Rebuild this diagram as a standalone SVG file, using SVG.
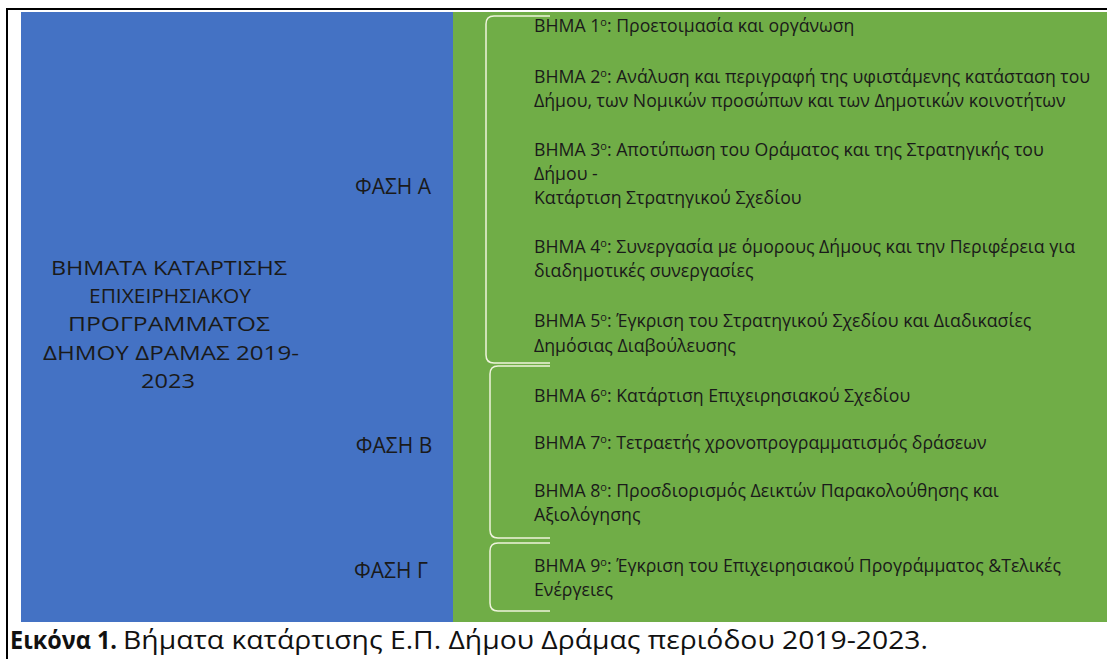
<svg xmlns="http://www.w3.org/2000/svg" width="1107" height="659" viewBox="0 0 1107 659">
<style>
.step{font-family:"Open Sans","Noto Sans","DejaVu Sans",sans-serif;font-size:17.7px;fill:#1a1a1a}
.phase{font-family:"Open Sans","Noto Sans","DejaVu Sans",sans-serif;font-size:21px;fill:#1a1a1a;text-anchor:middle}
.title{font-family:"Open Sans","Noto Sans","DejaVu Sans",sans-serif;font-size:20.5px;fill:#1a1a1a;text-anchor:middle}
.cap{font-family:"Open Sans","Noto Sans","DejaVu Sans",sans-serif;font-size:25px;fill:#111}
.br{fill:none;stroke:#eef3dc;stroke-width:1.5}
.sup{font-size:11px}
</style>
<rect x="0" y="0" width="1107" height="659" fill="#ffffff"/>
<g id="frame">
<line x1="6" y1="9" x2="1107" y2="9" stroke="#000" stroke-width="2"/>
<line x1="7" y1="9" x2="7" y2="659" stroke="#000" stroke-width="2"/>
</g>
<g id="title-box">
<rect x="21" y="12" width="432" height="610" fill="#4472C4"/>
<text class="title" x="169" y="275" textLength="236" lengthAdjust="spacingAndGlyphs">ΒΗΜΑΤΑ ΚΑΤΑΡΤΙΣΗΣ</text>
<text class="title" x="170" y="303" textLength="162" lengthAdjust="spacingAndGlyphs">ΕΠΙΧΕΙΡΗΣΙΑΚΟΥ</text>
<text class="title" x="169" y="331" textLength="202" lengthAdjust="spacingAndGlyphs">ΠΡΟΓΡΑΜΜΑΤΟΣ</text>
<text class="title" x="171" y="360" textLength="256" lengthAdjust="spacingAndGlyphs">ΔΗΜΟΥ ΔΡΑΜΑΣ 2019-</text>
<text class="title" x="168" y="388" textLength="54" lengthAdjust="spacingAndGlyphs">2023</text>
</g>
<g id="steps-box">
<rect x="453" y="12" width="654" height="610" fill="#70AD47"/>
</g>
<g id="phaseA"><text class="phase" x="393" y="194">ΦΑΣΗ Α</text></g>
<g id="phaseB"><text class="phase" x="394" y="453">ΦΑΣΗ Β</text></g>
<g id="phaseC"><text class="phase" x="391" y="578">ΦΑΣΗ Γ</text></g>
<g id="connectors">
<path class="br" d="M550,16 L494,16 Q486,16 486,24 L486,355 Q486,363 494,363 L550,363"/>
<path class="br" d="M550,366 L498,366 Q490,366 490,374 L490,530 Q490,538 498,538 L550,538"/>
<path class="br" d="M550,543 L498,543 Q490,543 490,551 L490,603 Q490,611 498,611 L550,611"/>
</g>
<g id="step1"><text class="step" x="534" y="32">ΒΗΜΑ 1<tspan class="sup" dy="-6">ο</tspan><tspan dy="6">: Προετοιμασία και οργάνωση</tspan></text></g>
<g id="step2"><text class="step" x="534" y="83">ΒΗΜΑ 2<tspan class="sup" dy="-6">ο</tspan><tspan dy="6">: Ανάλυση και περιγραφή της υφιστάμενης κατάσταση του</tspan></text>
<text class="step" x="534" y="107">Δήμου, των Νομικών προσώπων και των Δημοτικών κοινοτήτων</text></g>
<g id="step3"><text class="step" x="534" y="156">ΒΗΜΑ 3<tspan class="sup" dy="-6">ο</tspan><tspan dy="6">: Αποτύπωση του Οράματος και της Στρατηγικής του</tspan></text>
<text class="step" x="534" y="180">Δήμου -</text>
<text class="step" x="534" y="204">Κατάρτιση Στρατηγικού Σχεδίου</text></g>
<g id="step4"><text class="step" x="534" y="253">ΒΗΜΑ 4<tspan class="sup" dy="-6">ο</tspan><tspan dy="6">: Συνεργασία με όμορους Δήμους και την Περιφέρεια για</tspan></text>
<text class="step" x="534" y="277">διαδημοτικές συνεργασίες</text></g>
<g id="step5"><text class="step" x="534" y="327">ΒΗΜΑ 5<tspan class="sup" dy="-6">ο</tspan><tspan dy="6">: Έγκριση του Στρατηγικού Σχεδίου και Διαδικασίες</tspan></text>
<text class="step" x="534" y="352">Δημόσιας Διαβούλευσης</text></g>
<g id="step6"><text class="step" x="534" y="402">ΒΗΜΑ 6<tspan class="sup" dy="-6">ο</tspan><tspan dy="6">: Κατάρτιση Επιχειρησιακού Σχεδίου</tspan></text></g>
<g id="step7"><text class="step" x="534" y="449">ΒΗΜΑ 7<tspan class="sup" dy="-6">ο</tspan><tspan dy="6">: Τετραετής χρονοπρογραμματισμός δράσεων</tspan></text></g>
<g id="step8"><text class="step" x="534" y="497">ΒΗΜΑ 8<tspan class="sup" dy="-6">ο</tspan><tspan dy="6">: Προσδιορισμός Δεικτών Παρακολούθησης και</tspan></text>
<text class="step" x="534" y="521">Αξιολόγησης</text></g>
<g id="step9"><text class="step" x="534" y="572">ΒΗΜΑ 9<tspan class="sup" dy="-6">ο</tspan><tspan dy="6">: Έγκριση του Επιχειρησιακού Προγράμματος &amp;Τελικές</tspan></text>
<text class="step" x="534" y="596">Ενέργειες</text></g>
<g id="caption">
<text class="cap" x="10" y="649" font-weight="bold" textLength="107" lengthAdjust="spacingAndGlyphs">Εικόνα 1.</text>
<text class="cap" x="123" y="649" textLength="805" lengthAdjust="spacingAndGlyphs">Βήματα κατάρτισης Ε.Π. Δήμου Δράμας περιόδου 2019-2023.</text>
</g>
</svg>
